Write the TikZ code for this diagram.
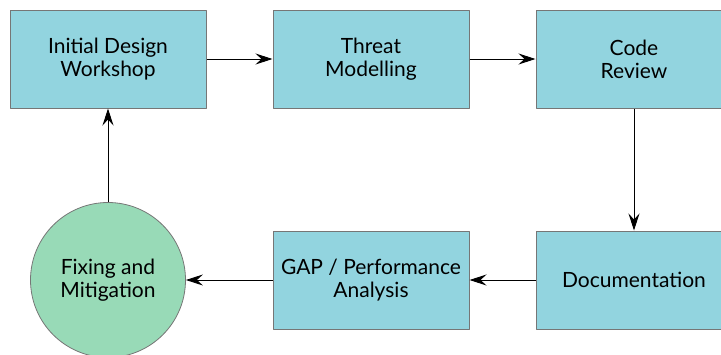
\documentclass[tikz,border=0pt]{standalone}
\usepackage{fontspec}
\setmainfont{Lato}
\usetikzlibrary{arrows.meta,positioning}
\definecolor{stepcyan}{RGB}{146,212,223}
\definecolor{fixgreen}{RGB}{152,218,183}
\definecolor{edgegray}{RGB}{118,118,118}
\tikzset{
  stage/.style={draw=edgegray,line width=1pt,fill=stepcyan,minimum width=196pt,minimum height=98pt,
    align=center,inner sep=0pt},
  fixcircle/.style={circle,draw=edgegray,line width=0.8pt,fill=fixgreen,minimum size=155pt,
    align=center,inner sep=0pt},
  flow/.style={-{Stealth[length=17pt,width=11pt,inset=6pt]},line width=0.9pt}
}
\begin{document}
\begin{tikzpicture}[x=1pt,y=-1pt,line join=round,font=\fontsize{21}{23}\selectfont]
\useasboundingbox (0,0) rectangle (721,354);
% top row
\node[stage] (workshop) at (108,59) {Initial Design\\Workshop};
\node[stage] (threat) at (371,59) {Threat\\Modelling};
\node[stage] (review) at (634,59) {Code\\Review};
% bottom row
\node[stage] (docs) at (634,280) {Documentation};
\node[stage] (gap) at (371,280) {GAP / Performance\\Analysis};
\node[fixcircle] (fix) at (108,280) {Fixing and\\Mitigation};
% cycle
\draw[flow] (workshop) -- (threat);
\draw[flow] (threat) -- (review);
\draw[flow] (review) -- (docs);
\draw[flow] (docs) -- (gap);
\draw[flow] (gap) -- (fix);
\draw[flow] (fix) -- (workshop);
\end{tikzpicture}
\end{document}
